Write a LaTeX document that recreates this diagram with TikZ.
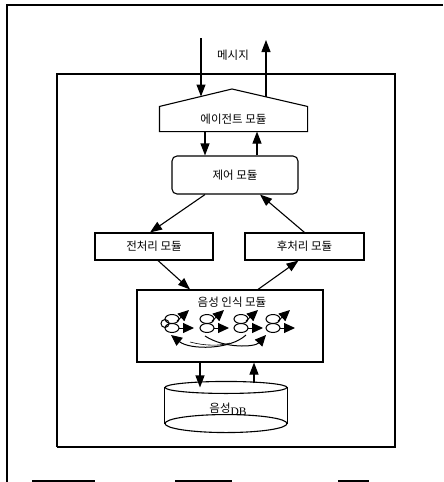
\documentclass[tikz,border=0pt]{standalone}
\usepackage{fontspec}
\newfontfamily\kr{Noto Sans CJK KR}
\usetikzlibrary{arrows.meta,calc}
\begin{document}
\begin{tikzpicture}[x=1pt,y=-1pt,
  line width=1.1pt,
  arr/.style={-{Triangle[length=12pt,width=9pt]},line width=1.1pt},
  harr/.style={-{Triangle[length=11pt,width=10pt]},line width=1pt},
  lbl/.style={font=\kr\fontsize{11.5}{13}\selectfont},
  boxnode/.style={draw,rectangle,line width=1.1pt,inner sep=0pt,font=\kr\fontsize{11.5}{13}\selectfont},
  blank/.style={rectangle,inner sep=0pt,font=\kr\fontsize{11.5}{13}\selectfont}]
\useasboundingbox (0,0) rectangle (444,482);
% outer frame fragments
\draw (7,482) -- (7,5) -- (443,5);
\draw (32,481) -- (95,481);
\draw (175,481) -- (232,481);
\draw (338,481) -- (369,481);
% inner frame
\draw (57,447) -- (57,74) -- (395,74);
\draw[line width=2.6pt] (395,73) -- (395,447) -- (57,447);
% agent module (pentagon)
\node[blank,minimum width=147pt,minimum height=24pt] (agent) at (233.5,119) {에이전트 모듈};
\coordinate (apex) at (232,89);
\draw (agent.south west) -- (agent.north west) -- (apex) -- (agent.north east) -- (agent.south east) -- cycle;
\coordinate (msgin) at (201,38);
\coordinate (msginend) at (201,96.5);
\coordinate (msgout) at (266,40);
\coordinate (msgoutstart) at (266,97);
\draw[arr] (msgin) -- (msginend);
\draw[arr] (msgoutstart) -- (msgout);
\node[lbl] (msg) at (233,55) {메시지};
% control module
\node[boxnode,rounded corners=5pt,minimum width=126pt,minimum height=38pt] (ctrl) at (235,175) {제어 모듈};
\draw[arr] ([xshift=-28.5pt]agent.south) -- ([xshift=-30pt]ctrl.north);
\draw[arr] ([xshift=22pt]ctrl.north) -- ([xshift=23.5pt]agent.south);
% pre / post
\node[boxnode,minimum width=118pt,minimum height=27pt] (pre) at (154,246.5) {전처리 모듈};
\node[boxnode,minimum width=119pt,minimum height=27pt] (post) at (304.5,246.5) {후처리 모듈};
\draw[arr] ([xshift=-30pt]ctrl.south) -- ([xshift=-4pt]pre.north);
\draw[arr] ([xshift=0pt]post.north) -- ([xshift=25pt]ctrl.south);
% speech recognition module
\node[boxnode,minimum width=186pt,minimum height=72pt] (speech) at (230,326) {};
\node[lbl] (speechtitle) at (232,302) {음성 인식 모듈};
\draw[arr] ([xshift=4pt]pre.south) -- ([xshift=-40pt]speech.north);
\draw[arr] ([xshift=28pt]speech.north) -- ([xshift=-6pt]post.south);
% HMM states
\foreach \gx in {172,207,241,273}{
  \draw[line width=1pt] (\gx,319) ellipse (7 and 4.5);
  \draw[line width=1pt] (\gx,328) ellipse (7 and 4.5);
  \draw[harr] (\gx+7,328) -- (\gx+22,328);
  \draw[harr] (\gx+5,321) -- (\gx+17,310);
}
\draw[line width=1pt] (165,323.5) ellipse (4 and 4);
\draw[harr] (246,335) .. controls (230,350) and (190,350) .. (171,335);
\draw[harr] (205,336) .. controls (225,349) and (255,347) .. (266,335);
\draw[line width=0.6pt] (190,342) .. controls (205,346) and (220,346) .. (230,343);
% database
\node[blank,minimum width=122pt,minimum height=35pt] (db) at (226,405.5) {};
\node[lbl] (dblabel) at (228,409) {음성\raisebox{-3pt}{\fontspec{Liberation Serif}DB}};
\draw (db.north) ellipse (61 and 6);
\draw (db.south) ellipse (61 and 9);
\draw (db.north west) -- (db.south west);
\draw (db.north east) -- (db.south east);
\draw[arr] ([xshift=-30pt]speech.south) -- ([xshift=-26pt]db.north);
\draw[arr] ([xshift=28pt,yshift=4pt]db.north) -- ([xshift=24pt]speech.south);
\end{tikzpicture}
\end{document}
